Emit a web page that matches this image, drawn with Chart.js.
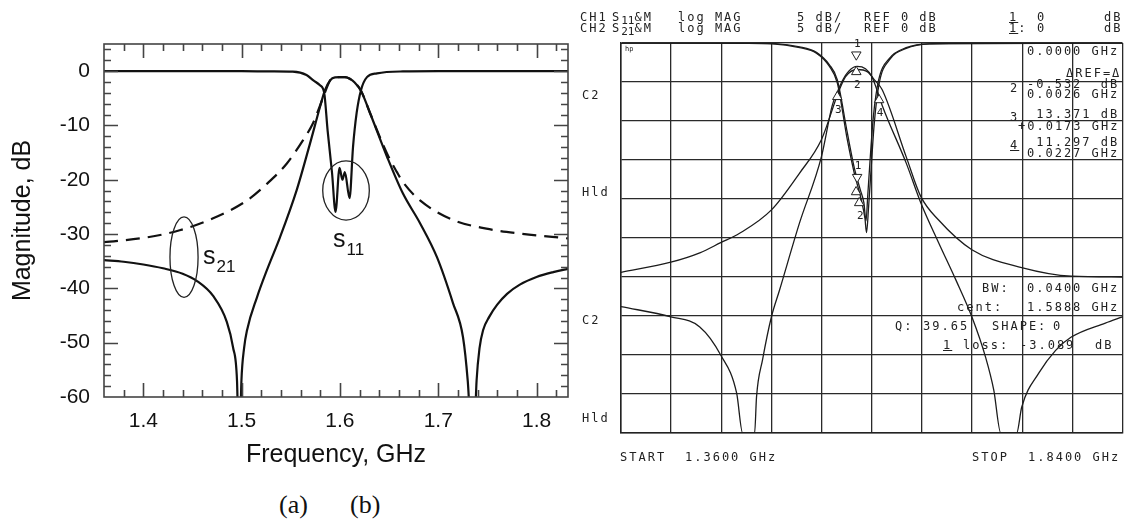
<!DOCTYPE html>
<html>
<head>
<meta charset="utf-8">
<script src="https://cdn.jsdelivr.net/npm/chart.js@4.4.1/dist/chart.umd.min.js"></script>
<style>
  html, body { margin: 0; padding: 0; background: #fff; }
  #wrap { position: relative; width: 1129px; height: 519px; overflow: hidden; background: #fff; }
  canvas { position: absolute; top: 0; }
  #left { left: 0; }
  #right { left: 575px; }
  .hp { position: absolute; font-family: "DejaVu Sans Mono", monospace; font-size: 12px; letter-spacing: 2px;
        color: #222; white-space: pre; line-height: 14px; }
  .hp sub { font-size: 11px; vertical-align: -3px; letter-spacing: 0; }
  .u { text-decoration: underline; }
  .cap { position: absolute; font-family: "Liberation Serif", "Times New Roman", serif; font-size: 26px; color: #111; line-height: 30px; }
</style>
</head>
<body>
<div id="wrap">
  <canvas id="left" width="575" height="480"></canvas>
  <canvas id="right" width="554" height="519"></canvas>

  <!-- analyzer header -->
  <div class="hp" style="left:580px;top:10px">CH1</div>
  <div class="hp" style="left:612px;top:10px">S<sub>11</sub>&amp;M</div>
  <div class="hp" style="left:678px;top:10px">log MAG</div>
  <div class="hp" style="left:797px;top:10px">5 dB/</div>
  <div class="hp" style="left:864px;top:10px">REF 0 dB</div>
  <div class="hp u" style="left:1009px;top:10px">1</div>
  <div class="hp" style="left:1037px;top:10px">0</div>
  <div class="hp" style="left:1104px;top:10px">dB</div>
  <div class="hp" style="left:580px;top:21px">CH2</div>
  <div class="hp" style="left:612px;top:21px">S<sub>21</sub>&amp;M</div>
  <div class="hp" style="left:678px;top:21px">log MAG</div>
  <div class="hp" style="left:797px;top:21px">5 dB/</div>
  <div class="hp" style="left:864px;top:21px">REF 0 dB</div>
  <div class="hp" style="left:1009px;top:21px"><span class="u">1</span>:</div>
  <div class="hp" style="left:1037px;top:21px">0</div>
  <div class="hp" style="left:1104px;top:21px">dB</div>

  <!-- side labels -->
  <div class="hp" style="left:582px;top:88px">C2</div>
  <div class="hp" style="left:582px;top:185px">Hld</div>
  <div class="hp" style="left:582px;top:313px">C2</div>
  <div class="hp" style="left:582px;top:411px">Hld</div>
  <div class="hp" style="left:625px;top:42px;font-size:7px;letter-spacing:0">hp</div>

  <!-- marker readouts -->
  <div class="hp" style="left:1027px;top:44px">0.0000 GHz</div>
  <div class="hp" style="left:1066px;top:66px">ΔREF=Δ</div>
  <div class="hp" style="left:1010px;top:81px">2</div>
  <div class="hp" style="left:1027px;top:77px">-0.532  dB</div>
  <div class="hp" style="left:1027px;top:87px">0.0026 GHz</div>
  <div class="hp" style="left:1010px;top:110px">3</div>
  <div class="hp" style="left:1027px;top:107px"> 13.371 dB</div>
  <div class="hp" style="left:1018px;top:119px">+0.0173 GHz</div>
  <div class="hp u" style="left:1010px;top:138px">4</div>
  <div class="hp" style="left:1027px;top:135px"> 11.297 dB</div>
  <div class="hp" style="left:1027px;top:146px">0.0227 GHz</div>
  <div class="hp" style="left:982px;top:281px">BW:</div>
  <div class="hp" style="left:1027px;top:281px">0.0400 GHz</div>
  <div class="hp" style="left:957px;top:300px">cent:</div>
  <div class="hp" style="left:1027px;top:300px">1.5888 GHz</div>
  <div class="hp" style="left:895px;top:319px">Q:</div>
  <div class="hp" style="left:923px;top:319px">39.65</div>
  <div class="hp" style="left:992px;top:319px">SHAPE:</div>
  <div class="hp" style="left:1053px;top:319px">0</div>
  <div class="hp u" style="left:943px;top:338px">1</div>
  <div class="hp" style="left:963px;top:338px">loss:</div>
  <div class="hp" style="left:1020px;top:338px">-3.089</div>
  <div class="hp" style="left:1095px;top:338px">dB</div>

  <!-- sweep -->
  <div class="hp" style="left:620px;top:450px">START</div>
  <div class="hp" style="left:685px;top:450px">1.3600 GHz</div>
  <div class="hp" style="left:972px;top:450px">STOP</div>
  <div class="hp" style="left:1028px;top:450px">1.8400 GHz</div>

  <div class="cap" style="left:279px;top:490px">(a)</div>
  <div class="cap" style="left:350px;top:490px">(b)</div>
</div>

<script>
// ---- (a) simulated response ----
const leftFreqTicks = [1.4, 1.5, 1.6, 1.7, 1.8];
const leftDbTicks = [0, -10, -20, -30, -40, -50, -60];

const leftS11F = [1.36, 1.45, 1.50, 1.53, 1.552, 1.566, 1.573, 1.5797, 1.584, 1.5875, 1.592, 1.5955,
  1.5996, 1.6025, 1.605, 1.6098, 1.6133, 1.617, 1.6214, 1.6275, 1.6377, 1.664, 1.70, 1.832];
const leftS11Db = [0, 0, 0, -0.05, -0.1, -0.7, -1.7, -2.6, -4.0, -11, -18.8, -25.9,
  -17.8, -20.0, -18.6, -23.4, -14.0, -7.7, -3.5, -1.1, -0.4, -0.05, 0, 0];

const leftS21F = [1.36, 1.38, 1.40, 1.42, 1.44, 1.455, 1.471, 1.485, 1.4912, 1.4953, 1.4975, 1.4998, 1.5025,
  1.5055, 1.5157, 1.5258, 1.539, 1.556, 1.5696, 1.5797, 1.5848, 1.59, 1.595, 1.60, 1.605, 1.61, 1.615,
  1.6214, 1.6306, 1.648, 1.664, 1.6815, 1.6988, 1.715, 1.7252, 1.730, 1.7355, 1.739, 1.742, 1.7456,
  1.752, 1.76, 1.77, 1.783, 1.80, 1.817, 1.832];
const leftS21Db = [-34.8, -35.1, -35.6, -36.3, -37.3, -38.7, -41.4, -46.2, -50.8, -57, -72, -57, -51,
  -47.7, -41.6, -36.6, -30.6, -21.9, -13.3, -6.6, -3.5, -1.7, -1.15, -1.1, -1.1, -1.4, -2.1,
  -3.6, -7.7, -15.8, -22.5, -28, -34.3, -42.7, -49, -57, -72, -57, -51, -47.7,
  -45.2, -43.0, -41.0, -39.3, -37.9, -37.0, -36.4];

const leftS21dF = [1.36, 1.404, 1.437, 1.471, 1.5055, 1.526, 1.546, 1.5625, 1.5726, 1.583, 1.59, 1.595,
  1.60, 1.605, 1.61, 1.615, 1.6214, 1.6306, 1.648, 1.658, 1.664, 1.6815, 1.715, 1.749, 1.783, 1.832];
const leftS21dDb = [-31.5, -30.6, -29.3, -27.1, -23.8, -20.7, -17, -12.7, -9.6, -4.8, -1.7, -1.15,
  -1.1, -1.1, -1.4, -2.1, -3.6, -7.7, -15.2, -18.6, -20.4, -23.8, -27.4, -29, -29.9, -30.8];

// ---- (b) measured response ----
const rightFreqGrid = [1.36, 1.408, 1.456, 1.504, 1.552, 1.60, 1.648, 1.696, 1.744, 1.792, 1.84];
const rightDbGrid = [0, -5, -10, -15, -20, -25, -30, -35, -40, -45, -50];

const rightS11F = [1.36, 1.45, 1.505, 1.531, 1.547, 1.5595, 1.567, 1.5766, 1.5833, 1.590, 1.5935, 1.595,
  1.597, 1.5995, 1.6024, 1.6072, 1.6167, 1.633, 1.655, 1.70, 1.84];
const rightS11Db = [0, 0, -0.1, -0.6, -1.3, -3.0, -5.1, -12.4, -16.7, -20.1, -22.5, -24.3,
  -21.0, -15.9, -10.3, -5.1, -2.2, -0.7, -0.1, 0, 0];

const rightS11mF = [1.36, 1.50, 1.531, 1.547, 1.5595, 1.567, 1.5766, 1.5833, 1.589, 1.5925, 1.5945, 1.5962,
  1.5985, 1.6015, 1.6065, 1.6167, 1.633, 1.655, 1.84];
const rightS11mDb = [0, -0.05, -0.5, -1.2, -2.8, -4.7, -11.5, -16.0, -18.8, -20.5, -22.8, -19.5,
  -14.8, -9.5, -4.8, -2.0, -0.6, -0.1, 0];

const rightS21F = [1.36, 1.4077, 1.4354, 1.4554, 1.4707, 1.4764, 1.482, 1.4879, 1.4897, 1.4955, 1.504,
  1.5117, 1.5308, 1.5518, 1.5622, 1.567, 1.572, 1.578, 1.586, 1.594, 1.600, 1.607, 1.610, 1.633, 1.647,
  1.664, 1.6806, 1.6958, 1.709, 1.7168, 1.7235, 1.731, 1.7387, 1.7435, 1.76, 1.776, 1.791, 1.8236, 1.84];
const rightS21Db = [-33.8, -35.1, -36.4, -40.0, -44.9, -50, -50, -50, -45.4, -40.6, -35.1,
  -31.7, -23.1, -14.6, -8.0, -6.3, -4.8, -3.6, -3.0, -3.3, -4.3, -6.8, -8.0, -15.4, -20.5,
  -25.6, -30.4, -35.1, -40.3, -44.5, -50, -50, -50, -46.7, -42.3, -39.4, -37.7, -35.9, -35.1];

const rightS21mF = [1.36, 1.4077, 1.4354, 1.4554, 1.4735, 1.504, 1.5308, 1.5518, 1.569, 1.575, 1.586,
  1.596, 1.603, 1.610, 1.633, 1.647, 1.664, 1.6958, 1.7435, 1.791, 1.84];
const rightS21mDb = [-29.4, -28.1, -26.9, -25.6, -24.4, -21.4, -16.7, -12.4, -6.0, -4.3, -3.4,
  -3.7, -4.8, -6.0, -14.6, -19.7, -22.7, -26.5, -28.8, -29.9, -30.0];

const markerF = [1.5852, 1.5852, 1.567, 1.607, 1.586, 1.585, 1.588];
const markerDb = [-1.5, -3.7, -6.9, -7.3, -17.2, -19.1, -20.5];
const markerRot = [180, 0, 0, 0, 180, 0, 0];
const markerText = ["1", "2", "3", "4", "1", "", "2"];

const pts = (xs, ys) => xs.map((x, i) => ({ x, y: ys[i] }));

function curve(xs, ys, width, dash) {
  return {
    data: pts(xs, ys),
    borderColor: "#111",
    borderWidth: width,
    borderDash: dash || [],
    pointRadius: 0,
    fill: false,
    cubicInterpolationMode: "monotone",
    capBezierPoints: false,
  };
}

const leftDeco = {
  id: "leftDeco",
  afterDatasetsDraw(chart) {
    const { ctx, chartArea: a, scales: { x, y } } = chart;
    ctx.save();
    ctx.strokeStyle = "#444";
    ctx.lineWidth = 1.6;
    ctx.strokeRect(a.left, a.top, a.right - a.left, a.bottom - a.top);
    ctx.beginPath();
    for (let k = 1; k <= 23; k++) {
      const v = 1.36 + 0.02 * k;
      const major = Math.abs(v * 10 - Math.round(v * 10)) < 1e-6;
      const len = major ? 14 : 7;
      const px = Math.round(x.getPixelForValue(v)) + 0.5;
      ctx.moveTo(px, a.bottom); ctx.lineTo(px, a.bottom - len);
      ctx.moveTo(px, a.top); ctx.lineTo(px, a.top + len);
    }
    for (let d = -58; d <= 4; d += 2) {
      const len = d % 10 === 0 ? 14 : 7;
      const py = Math.round(y.getPixelForValue(d)) + 0.5;
      ctx.moveTo(a.left, py); ctx.lineTo(a.left + len, py);
      ctx.moveTo(a.right, py); ctx.lineTo(a.right - len, py);
    }
    ctx.stroke();

    // ellipses round the curve families
    const ell = (f, db, rf, rdb) => {
      const cx = x.getPixelForValue(f), cy = y.getPixelForValue(db);
      const rx = Math.abs(x.getPixelForValue(f + rf) - cx);
      const ry = Math.abs(y.getPixelForValue(db + rdb) - cy);
      ctx.beginPath();
      ctx.ellipse(cx, cy, rx, ry, 0, 0, Math.PI * 2);
      ctx.stroke();
      return [cx, cy];
    };
    ctx.strokeStyle = "#222";
    ctx.lineWidth = 1.3;
    const [c1x, c1y] = ell(1.4414, -34.25, 0.0143, 7.4);
    const [c2x, c2y] = ell(1.6062, -21.97, 0.0237, 5.45);

    ctx.fillStyle = "#111";
    ctx.textBaseline = "alphabetic";
    const lab = (sx, sy, sub) => {
      ctx.font = '25px "Liberation Sans", Arial, sans-serif';
      ctx.fillText("s", sx, sy);
      const w = ctx.measureText("s").width;
      ctx.font = '17px "Liberation Sans", Arial, sans-serif';
      ctx.fillText(sub, sx + w + 1, sy + 8);
    };
    lab(c1x + 19, c1y + 7, "21");
    lab(c2x - 13, c2y + 57, "11");
    ctx.restore();
  },
};

new Chart(document.getElementById("left"), {
  type: "line",
  data: {
    datasets: [
      curve(leftS11F, leftS11Db, 2.2),
      curve(leftS21F, leftS21Db, 2.2),
      curve(leftS21dF, leftS21dDb, 2.2, [14, 8]),
    ],
  },
  options: {
    responsive: false,
    animation: false,
    devicePixelRatio: 1,
    layout: { padding: { top: 44, right: 7, left: 0, bottom: 0 } },
    plugins: { legend: { display: false }, tooltip: { enabled: false } },
    scales: {
      x: {
        type: "linear",
        min: 1.36,
        max: 1.832,
        grid: { display: false, drawTicks: false },
        border: { display: false },
        afterBuildTicks: (s) => { s.ticks = leftFreqTicks.map((v) => ({ value: v })); },
        afterFit: (s) => { s.height = 83; },
        ticks: {
          color: "#111",
          padding: 12,
          maxRotation: 0,
          font: { family: '"Liberation Sans", Arial, sans-serif', size: 21 },
          callback: (v) => Number(v).toFixed(1),
        },
        title: {
          display: true,
          text: "Frequency, GHz",
          color: "#111",
          padding: { bottom: 10 },
          font: { family: '"Liberation Sans", Arial, sans-serif', size: 25 },
        },
      },
      y: {
        min: -60,
        max: 5,
        grid: { display: false, drawTicks: false },
        border: { display: false },
        afterBuildTicks: (s) => { s.ticks = leftDbTicks.map((v) => ({ value: v })); },
        afterFit: (s) => { s.width = 104; },
        ticks: {
          color: "#111",
          padding: 14,
          font: { family: '"Liberation Sans", Arial, sans-serif', size: 21 },
          callback: (v) => String(v),
        },
        title: {
          display: true,
          text: "Magnitude, dB",
          color: "#111",
          padding: { top: 8 },
          font: { family: '"Liberation Sans", Arial, sans-serif', size: 25 },
        },
      },
    },
  },
  plugins: [leftDeco],
});

const markerLabels = {
  id: "markerLabels",
  afterDatasetsDraw(chart) {
    const { ctx, scales: { x, y } } = chart;
    ctx.save();
    ctx.fillStyle = "#222";
    ctx.font = '11px "DejaVu Sans Mono", monospace';
    ctx.textAlign = "center";
    ctx.textBaseline = "middle";
    markerF.forEach((f, i) => {
      if (!markerText[i]) return;
      const px = x.getPixelForValue(f), py = y.getPixelForValue(markerDb[i]);
      ctx.fillText(markerText[i], px + 1, markerRot[i] ? py - 11 : py + 13);
    });
    ctx.restore();
  },
};

const rightLine = (xs, ys) => ({ ...curve(xs, ys, 1.3), borderColor: "#1c1c1c" });

new Chart(document.getElementById("right"), {
  type: "line",
  data: {
    datasets: [
      {
        data: pts(markerF, markerDb),
        showLine: false,
        pointStyle: "triangle",
        pointRadius: 5.5,
        pointRotation: markerRot,
        pointBackgroundColor: "#fff",
        pointBorderColor: "#222",
        pointBorderWidth: 1,
      },
      rightLine(rightS11F, rightS11Db),
      rightLine(rightS11mF, rightS11mDb),
      rightLine(rightS21F, rightS21Db),
      rightLine(rightS21mF, rightS21mDb),
    ],
  },
  options: {
    responsive: false,
    animation: false,
    devicePixelRatio: 1,
    layout: { padding: { top: 43, right: 5, left: 0, bottom: 0 } },
    plugins: { legend: { display: false }, tooltip: { enabled: false } },
    scales: {
      x: {
        type: "linear",
        min: 1.36,
        max: 1.84,
        afterBuildTicks: (s) => { s.ticks = rightFreqGrid.map((v) => ({ value: v })); },
        afterFit: (s) => { s.height = 86; },
        ticks: { display: false },
        grid: { color: "#2a2a2a", lineWidth: 1.3, drawTicks: false },
        border: { color: "#222", width: 1.5 },
      },
      y: {
        min: -50,
        max: 0,
        afterBuildTicks: (s) => { s.ticks = rightDbGrid.map((v) => ({ value: v })); },
        afterFit: (s) => { s.width = 46; },
        ticks: { display: false },
        grid: { color: "#2a2a2a", lineWidth: 1.3, drawTicks: false },
        border: { color: "#222", width: 1.5 },
      },
    },
  },
  plugins: [markerLabels],
});
</script>
</body>
</html>
